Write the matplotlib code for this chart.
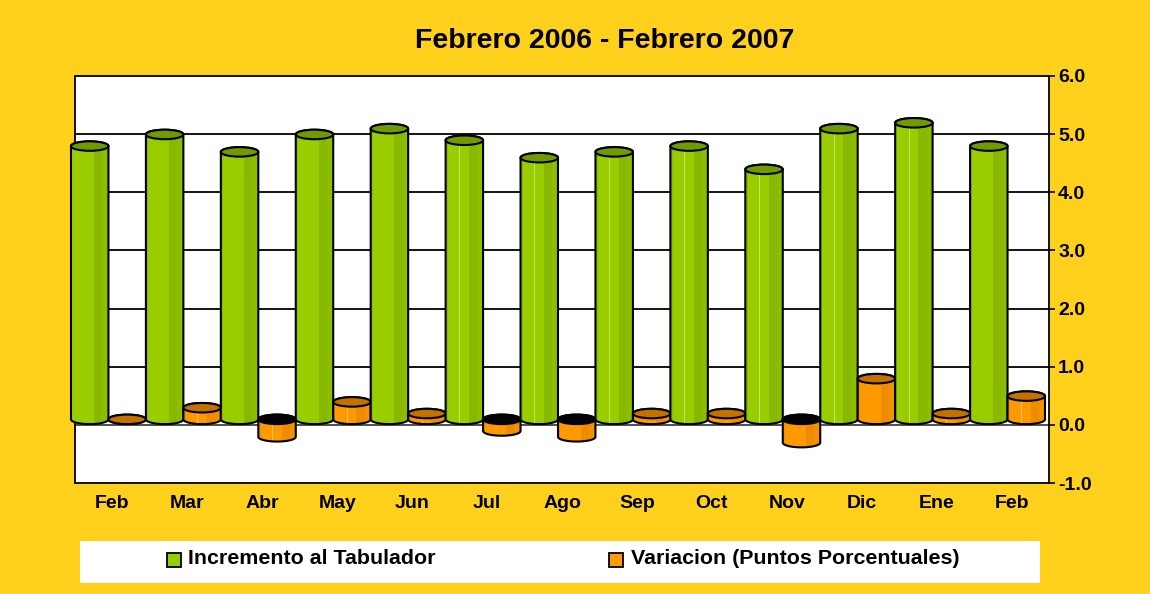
import matplotlib
matplotlib.use("Agg")
import matplotlib.pyplot as plt
import numpy as np
from matplotlib.patches import Polygon, Rectangle, Ellipse

# ---------------- data ----------------
months = ["Feb", "Mar", "Abr", "May", "Jun", "Jul", "Ago",
          "Sep", "Oct", "Nov", "Dic", "Ene", "Feb"]
incremento = [4.7, 4.9, 4.6, 4.9, 5.0, 4.8, 4.5, 4.6, 4.7, 4.3, 5.0, 5.1, 4.7]
variacion = [0.0, 0.2, -0.3, 0.3, 0.1, -0.2, -0.3, 0.1, 0.1, -0.4, 0.7, 0.1, 0.4]
series_names = ["Incremento al Tabulador", "Variacion (Puntos Porcentuales)"]
y_ticks = [-1, 0, 1, 2, 3, 4, 5, 6]
y_tick_labels = ["-1.0", "0.0", "1.0", "2.0", "3.0", "4.0", "5.0", "6.0"]
title = "Febrero 2006 - Febrero 2007"

# ---------------- style ----------------
plt.rcParams["font.family"] = ["Liberation Sans", "DejaVu Sans"]
BG = "#FFD11C"
GREEN = dict(body="#9ACD00", side="#88B900", edge_l="#8CBE00", hi="#C6E85A", top="#6F9A00")
ORANGE = dict(body="#FF9900", side="#EE8C00", edge_l="#F29200", hi="#FFC266", top="#C47100")
W, H = 1150, 594

fig = plt.figure(figsize=(W / 100, H / 100), dpi=100, facecolor=BG)
ax = fig.add_axes([75 / W, 1 - 483 / H, 974 / W, 407 / H])
ax.set_facecolor("white")
ax.set_xlim(-0.5, len(months) - 0.5)
ax.set_ylim(y_ticks[0], y_ticks[-1])

px_x = 974 / len(months)                  # pixels per category
px_y = 407 / (y_ticks[-1] - y_ticks[0])   # pixels per unit
DX = -4 / px_x                            # 3D depth shift
DY = 5.5 / px_y
EH = 9.5 / px_y                           # ellipse height (data units)
BW = 0.5                                  # bar width (categories)

# gridlines
for t in y_ticks[1:-1]:
    ax.axhline(t, color="#404040" if t == 0 else "black", lw=1.3, zorder=1)


def cylinder(xc, value, col, z):
    base = DY
    end = DY + value
    ytop, ybot = max(base, end), min(base, end)
    th_b = np.linspace(np.pi, 2 * np.pi, 60)
    th_t = np.linspace(0, np.pi, 60)
    xs = np.concatenate([xc + BW / 2 * np.cos(th_b), xc + BW / 2 * np.cos(th_t)])
    ys = np.concatenate([ybot + EH / 2 * np.sin(th_b), ytop + EH / 2 * np.sin(th_t)])
    pts = np.column_stack([xs, ys])
    sil = Polygon(pts, closed=True, facecolor=col["body"],
                  edgecolor="none", zorder=z, clip_on=False)
    ax.add_patch(sil)
    hgt = ytop - ybot + 2 * EH
    strips = [(-0.5, -0.44, col["edge_l"]), (0.12, 0.34, col["side"]),
              (0.34, 0.5, col["edge_l"]), (-0.13, -0.115, col["hi"])]
    for a, b, c in strips:
        r = Rectangle((xc + a * BW, ybot - EH), (b - a) * BW, hgt,
                      facecolor=c, edgecolor="none", zorder=z + 0.1)
        ax.add_patch(r)
        r.set_clip_path(sil)
    ax.add_patch(Polygon(pts, closed=True, facecolor="none",
                         edgecolor="black", lw=1.5, zorder=z + 0.2, clip_on=False))
    topc = "black" if value < 0 else col["top"]
    ax.add_patch(Ellipse((xc, ytop), BW, EH, facecolor=topc, edgecolor="black",
                         lw=1.5, zorder=z + 0.3, clip_on=False))


for i in range(len(months)):
    cylinder(i - BW / 2 + DX, incremento[i], GREEN, 3 + i)
    cylinder(i + BW / 2 + DX, variacion[i], ORANGE, 3 + i + 0.5)

# axes styling
for s in ax.spines.values():
    s.set_color("black")
    s.set_linewidth(1.3)
    s.set_zorder(2)
ax.yaxis.tick_right()
ax.set_yticks(y_ticks)
ax.set_yticklabels(y_tick_labels, fontsize=14, fontweight="bold")
ax.tick_params(axis="y", direction="out", length=4.5, width=1.2, pad=2)
ax.set_xticks(range(len(months)))
ax.set_xticklabels(months, fontsize=14, fontweight="bold")
ax.tick_params(axis="x", length=0, pad=9)

# title
fig.text(605 / W, 1 - 48 / H, title, ha="center", va="baseline",
         fontsize=20.5, fontweight="bold")

# legend (manual box)
fig.add_artist(Rectangle((80 / W, 1 - 583 / H), 960 / W, 42 / H,
                         transform=fig.transFigure, facecolor="white",
                         edgecolor="none"))
leg = [(167, 188, GREEN["body"]), (609, 631, ORANGE["body"])]
for (sx, tx, c), name in zip(leg, series_names):
    fig.add_artist(Rectangle((sx / W, 1 - 567 / H), 14 / W, 14 / H,
                             transform=fig.transFigure, facecolor=c,
                             edgecolor="black", lw=1.3))
    fig.text(tx / W, 1 - 564 / H, name, ha="left", va="baseline",
             fontsize=15.4, fontweight="bold")

fig.savefig("out.png", dpi=100, facecolor=BG)
